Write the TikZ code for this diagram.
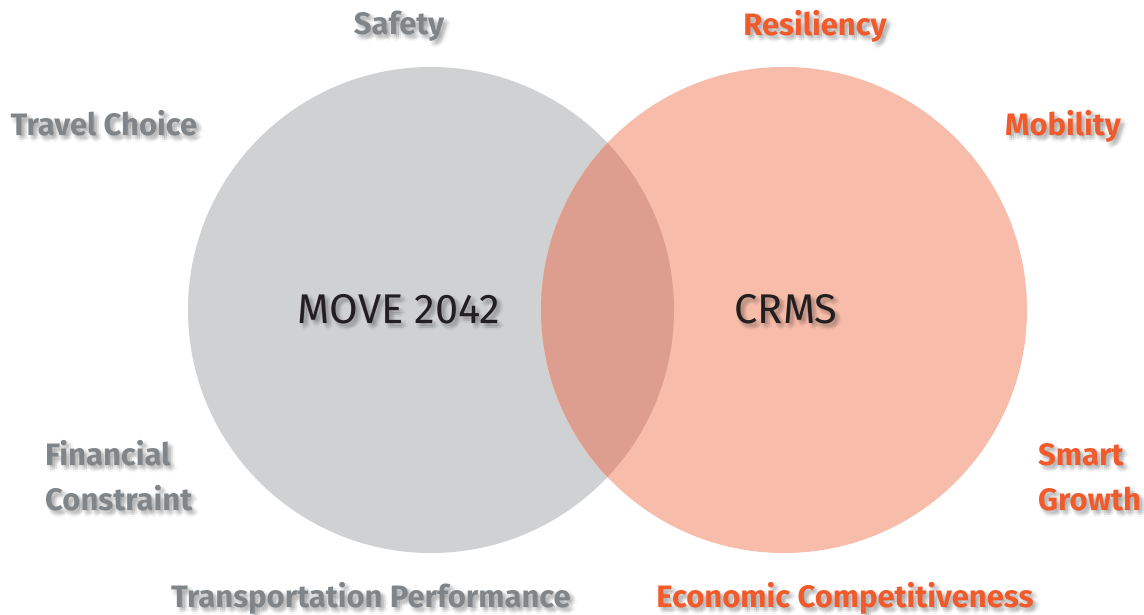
\documentclass[tikz,border=0pt]{standalone}
\usepackage{fontspec}
\setmainfont{Fira Sans}
\newfontfamily\labelfont{Fira Sans Bold}
\newfontfamily\centerfont{Fira Sans}
\definecolor{movegray}{HTML}{D0D1D3}
\definecolor{crmsorange}{HTML}{F8BDAA}
\definecolor{overlapred}{HTML}{DE9E8F}
\definecolor{graytext}{HTML}{808589}
\definecolor{orangetext}{HTML}{F15A2B}
\definecolor{darktext}{HTML}{231F20}
\tikzset{
  goal/.style={font=\labelfont\fontsize{31}{31}\selectfont, inner sep=0pt},
  graygoal/.style={goal, text=graytext},
  orangegoal/.style={goal, text=orangetext},
  plan/.style={font=\centerfont\fontsize{41.5}{41.5}\selectfont, inner sep=0pt, text=darktext},
}
% a label with a soft drop shadow: #1 name, #2 position, #3 style, #4 text
\newcommand\softlabel[4]{%
  \foreach \dx/\dy [count=\k] in {1/1,3/1,5/1,1/3,3/3,5/3,1/5,3/5,5/5,3/7,7/4}{%
    \node[#3, text=black, text opacity=0.035, name=#1-shadow\k]
      at ([shift={(\dx,\dy)}]#2) {#4};
  }%
  \node[#3, name=#1] at (#2) {#4};
}
\begin{document}
\begin{tikzpicture}[x=1pt, y=-1pt]
  \useasboundingbox[fill=white] (0,0) rectangle (1144,615);
  % the two plans
  \coordinate (movec) at (431,310);
  \coordinate (crmsc) at (784,310);
  \fill[movegray] (movec) circle[radius=243pt];
  \fill[crmsorange] (crmsc) circle[radius=243pt];
  \begin{scope}
    \clip (movec) circle[radius=243pt];
    \fill[overlapred] (crmsc) circle[radius=243pt];
  \end{scope}
  % plan names
  \softlabel{move}{399,323}{plan, anchor=base}{MOVE 2042}
  \softlabel{crms}{786,323}{plan, anchor=base}{CRMS}
  % MOVE 2042 goals
  \softlabel{safety}{399,35}{graygoal, anchor=base}{Safety}
  \softlabel{travel}{104,136}{graygoal, anchor=base}{Travel Choice}
  \softlabel{financial}{45,465}{graygoal, anchor=base west}{Financial}
  \softlabel{constraint}{45,510}{graygoal, anchor=base west}{Constraint}
  \softlabel{transport}{371,607}{graygoal, anchor=base}{Transportation Performance}
  % CRMS goals
  \softlabel{resiliency}{815,36}{orangegoal, anchor=base}{Resiliency}
  \softlabel{mobility}{1063,136}{orangegoal, anchor=base}{Mobility}
  \softlabel{smart}{1038,465}{orangegoal, anchor=base west}{Smart}
  \softlabel{growth}{1038,510}{orangegoal, anchor=base west}{Growth}
  \softlabel{economic}{845,607}{orangegoal, anchor=base}{Economic Competitiveness}
\end{tikzpicture}
\end{document}
